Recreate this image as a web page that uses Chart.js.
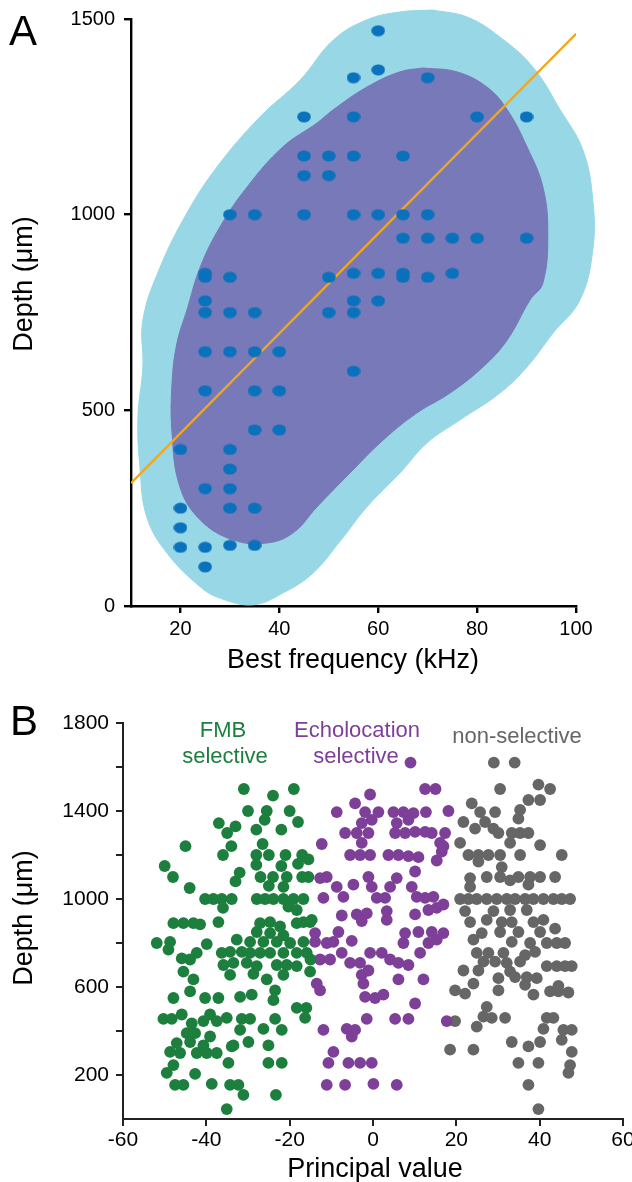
<!DOCTYPE html>
<html>
<head>
<meta charset="utf-8">
<script src="https://cdn.jsdelivr.net/npm/chart.js@4.4.1/dist/chart.umd.min.js"></script>
<style>
  body { margin: 0; background: #fff; }
  #wrap { position: relative; width: 632px; height: 1182px; background: #fff; }
  canvas { position: absolute; left: 0; }
  #chartA { top: 0; }
  #chartB { top: 690px; }
</style>
</head>
<body>
<div id="wrap">
  <canvas id="chartA" width="632" height="690"></canvas>
  <canvas id="chartB" width="632" height="492"></canvas>
</div>
<script>
// ---- panel A data: best frequency (kHz) vs depth (um)
const unitsA = [
  [20,400],[20,250],[20,200],[20,150],
  [25,850],[25,840],[25,780],[25,750],[25,650],[25,550],[25,300],[25,150],[25,100],
  [30,1000],[30,840],[30,750],[30,650],[30,400],[30,350],[30,300],[30,250],[30,155],
  [35,1000],[35,750],[35,650],[35,550],[35,450],[35,250],[35,155],
  [40,650],[40,550],[40,450],
  [45,1250],[45,1150],[45,1100],[45,1000],
  [50,1150],[50,1100],[50,840],[50,750],
  [55,1350],[55,1250],[55,1150],[55,1000],[55,850],[55,780],[55,750],[55,600],
  [60,1470],[60,1370],[60,1000],[60,850],[60,780],
  [65,1150],[65,1000],[65,940],[65,850],[65,840],
  [70,1350],[70,1000],[70,940],[70,840],
  [75,940],[75,850],
  [80,1250],[80,940],
  [90,1250],[90,940]
]
const fitLineA = [[10,314],[100,1462]]
const outerContour = [
  [71,1523],[78,1505],[84.6,1454],[91.3,1377],[96.8,1268],[101.4,1165],[103.4,1038],[103.4,910],
  [100.8,782],[95.4,698],[90.1,611],[84.6,544],[76.5,475],[69.9,417],[64.4,340],[57.7,253],
  [52.5,169],[46.8,84],[40.7,33],[34.7,3],[28,20],[24,49],[17.3,135],[13.2,227],[11.8,355],
  [11.4,483],[12.4,611],[12.4,731],[15.9,866],[21.3,1004],[27.4,1122],[36.1,1250],[44.2,1344],
  [50.9,1446],[57.7,1498],[64.4,1518],[71,1523]
]
const innerContour = [
  [69.1,1375],[75.9,1365],[82,1326],[86.1,1268],[90.1,1173],[93.3,1071],[94.3,953],[93.3,825],
  [90.7,782],[86.1,680],[81.2,611],[74.5,544],[67.8,493],[61,424],[54.3,340],[47.6,253],
  [42.8,187],[37.5,161],[30.6,169],[24,220],[19.9,304],[18.3,442],[18.3,570],[19.3,672],
  [21.3,756],[24,866],[28,969],[33.5,1071],[40.7,1173],[47.6,1234],[50.9,1268],[57.7,1326],
  [64.4,1365],[69.1,1375]
]
const xTicksA = [20,40,60,80,100]
const yTicksA = [0,500,1000,1500]

// ---- panel B data: principal value vs depth (um)
const fmbPoints = [
  [-31,1500],[-19,1500],[-24,1470],
  [-30,1400],[-25.5,1400],[-20,1400],
  [-37,1345],[-33,1330],[-35,1300],[-28,1315],[-22,1315],[-18,1350],[-26,1360],
  [-45,1240],[-26.5,1250],[-34,1240],[-36,1200],
  [-50,1150],[-48,1100],[-28,1200],[-25,1200],[-21,1200],[-17,1200],[-18,1160],[-28,1155],[-22,1150],
  [-44,1050],[-32,1120],[-33,1080],[-27,1100],[-24,1100],[-20.7,1100],[-17,1100],[-21.5,1055],[-25,1060],
  [-40.3,1000],[-38.3,1000],[-36.3,1000],[-33.9,1000],[-27.9,1000],[-25.9,1000],[-23.9,1000],[-21.5,1000],[-19.1,1000],[-16.7,1000],
  [-36,960],[-20.3,965],[-18.3,950],
  [-47.9,890],[-45.5,890],[-43.1,890],[-41.5,885],[-37.1,895],[-27.1,890],[-24.7,895],[-18.3,890],[-16.7,895],[-15.1,895],[-22.3,875],
  [-27.9,850],[-24.7,845],[-21.5,835],
  [-51.9,800],[-48.7,805],[-49.1,770],[-39.9,795],[-32.7,815],[-29.5,805],[-26.3,805],[-23.1,805],[-19.9,800],[-16.7,805],
  [-45.9,730],[-43.9,725],[-42.3,755],[-36.3,755],[-34.3,760],[-31.5,760],[-29.5,755],[-27.1,755],[-24.7,755],[-21.5,755],[-18.3,755],[-15.9,755],
  [-35.9,700],[-33.5,710],[-30.3,710],[-27.9,695],[-23.1,700],[-20.7,700],[-18.3,695],
  [-45.5,670],[-43.1,635],[-34.3,655],[-28.7,660],[-25.5,635],[-21.5,655],[-15.1,670],
  [-43.9,580],[-47.9,550],[-40.3,550],[-37.1,550],[-31.9,555],[-29.1,565],[-23.5,585],[-23.9,540],
  [-18.3,505],[-16.3,460],
  [-50.3,455],[-48.3,455],[-45.9,475],[-43.5,435],[-40.7,445],[-39.1,475],[-37.5,445],[-35.1,460],[-31.5,455],[-29.5,455],[-23.5,455],
  [-44.7,390],[-42.7,390],[-39.1,375],[-31.9,405],[-26.3,410],[-21.9,405],
  [-47.1,345],[-43.9,350],[-40.7,335],[-33.5,335],[-29.9,350],[-25.1,335],
  [-48.7,305],[-46.3,300],[-42.3,300],[-39.9,300],[-37.5,300],[-33.9,330],
  [-47.9,245],[-34.7,255],[-25.1,255],[-21.9,255],
  [-49.5,210],[-42.7,205],
  [-47.5,155],[-45.5,155],[-38.7,160],[-34.3,155],[-32.3,155],[-31.1,110],[-23.3,110],
  [-35.1,45],
  [-15.5,1180],[-15.5,1100],[-14.7,905],[-15,725],[-16,505]
]
const echoPoints = [
  [9,1620],
  [12.5,1500],[15,1500],[-0.7,1475],
  [-4.3,1435],[-8.7,1395],[-1.9,1395],[1.3,1395],[4.9,1395],[7.3,1395],[9.7,1390],[12.7,1395],[18.1,1400],
  [-0.3,1360],[-2.7,1345],[5.7,1345],[8.5,1360],
  [-6.7,1300],[-3.9,1300],[-1.1,1300],[5.3,1300],[7.7,1300],[10.1,1305],[12.5,1305],[14.1,1300],[17.3,1300],
  [-12.3,1250],[-2.7,1255],[16.1,1255],[16.9,1240],
  [-5.5,1200],[-3.1,1200],[-0.7,1200],[3.7,1200],[6.1,1200],[8.5,1195],[10.9,1190],[15.3,1175],[16.5,1215],
  [10.1,1125],
  [-12.7,1095],[-11.1,1100],[-1.1,1100],[5.7,1095],
  [-8.7,1055],[-4.7,1065],[-0.3,1055],[4.1,1055],[9.3,1055],
  [-11.9,1005],[-7.1,1010],[0.9,1005],[2.9,1005],[10.5,1010],[12.5,1005],[14.5,1010],[16.9,975],[13.3,950],[15.3,960],
  [-7.5,925],[-3.9,930],[-1.5,935],[-2.7,900],[3.3,945],[3.3,905],[10.1,930],
  [-13.9,845],[-8.3,850],[7.7,845],[10.9,850],[14.1,850],[16.9,845],
  [-13.9,805],[-11.1,800],[-9.5,805],[-5.1,810],[7.3,800],[13.3,800],[15.3,815],
  [-12.7,725],[-10.3,725],[-7.5,755],[-5.5,710],[-3.1,710],[-0.7,755],[2.1,755],[4.1,725],[6.1,710],[8.5,700],[11.3,755],
  [-1.1,675],[-2.7,655],[6.1,635],[12.1,635],
  [-13.5,615],[-12.7,585],[-2.3,615],[-1.9,555],[0.5,550],[2.5,565],
  [10.1,525],
  [-1.5,455],[5.3,455],[8.5,455],[17.7,445],
  [-11.9,405],[-6.3,410],[-5.1,375],[-4.3,405],
  [-9.5,305],[-10.7,255],[-5.9,255],[-3.1,255],[-0.3,255],
  [-11.1,155],[-6.7,155],[0.1,160],[5.7,155]
]
const nonSelPoints = [
  [29,1620],[34,1620],
  [39.7,1520],[42.5,1500],[30.5,1500],
  [37.3,1450],[40.1,1450],
  [23.7,1435],[25.7,1395],[29.3,1395],[35.3,1405],[34.9,1365],
  [21.7,1350],[24.5,1320],[26.9,1350],[28.9,1320],[30.1,1300],
  [33.3,1300],[35.3,1300],[37.3,1300],
  [20.9,1255],[32.9,1255],[40.1,1245],[45.3,1200],
  [22.9,1200],[25.3,1200],[27.7,1200],[30.5,1200],[35.3,1200],
  [25.3,1170],[30.9,1145],
  [23.3,1095],[27.3,1100],[30.5,1100],[32.9,1085],[34.9,1100],[37.7,1100],[40.1,1100],[43.7,1100],[23.3,1055],[37.3,1065],
  [20.9,1000],[22.9,1000],[24.9,1000],[27.3,1000],[29.7,1000],[32.1,1000],[34.1,1000],[36.5,1000],[38.5,1000],[40.9,1000],[43.3,1000],[45.3,1000],[47.3,1000],
  [22.1,945],[28.9,945],[32.9,950],[36.9,950],[23.3,895],[27.3,905],[30.9,895],[33.3,895],[38.5,895],[40.9,905],[43.7,865],
  [30.5,850],[34.9,850],[40.1,850],[26.1,845],
  [24.1,815],[33.3,805],[37.7,800],[41.7,800],[44.1,800],[46.1,800],
  [24.9,755],[27.7,755],[31.3,755],[36.5,745],[38.9,760],
  [26.5,715],[29.3,715],[32.1,710],[35.3,715],
  [41.7,695],[44.1,695],[46.1,695],[47.7,695],
  [21.7,675],[25.3,675],[32.9,670],[34.1,645],[30.1,640],[36.9,645],[39.3,640],
  [24.1,615],[19.7,585],[22.1,570],[30.1,585],[36.5,610],[38.5,565],
  [42.5,580],[44.5,605],[44.5,580],[46.9,575],
  [27.3,510],[26.5,465],[28.5,460],[31.7,460],[24.9,420],
  [19.7,445],
  [41.7,460],[43.3,460],
  [40.9,410],[45.7,405],[47.7,405],[45.3,360],
  [33.3,350],[37.3,330],[40.1,350],[47.7,305],
  [18.5,315],[24.1,315],
  [34.9,255],[39.7,255],[47.3,245],[46.9,210],
  [37.3,155],
  [39.7,45]
]
const xTicksB = [-60,-40,-20,0,20,40,60]
const yTicksB = [200,400,600,800,1000,1200,1400,1600,1800]
const yLabelsB = [200,600,1000,1400,1800]

const FONT = "'Liberation Sans', Arial, Helvetica, sans-serif"
const toXY = arr => arr.map(p => ({x: p[0], y: p[1]}))

// ellipse marker for panel A
const dot = document.createElement('canvas')
dot.width = 14
dot.height = 12
const dctx = dot.getContext('2d')
dctx.fillStyle = '#0a71bc'
dctx.beginPath()
dctx.ellipse(7, 6, 6.8, 5.6, 0, 0, Math.PI * 2)
dctx.fill()

// text labels drawn on top of each chart
const textPlugin = {
  id: 'texts',
  afterDraw(chart, args, opts) {
    const ctx = chart.ctx
    opts.items.forEach(t => {
      ctx.save()
      ctx.font = t.font
      ctx.fillStyle = t.color || '#000'
      ctx.textAlign = t.align || 'center'
      ctx.textBaseline = 'alphabetic'
      ctx.translate(t.x, t.y)
      if (t.rotate) ctx.rotate(t.rotate)
      ctx.fillText(t.text, 0, 0)
      ctx.restore()
    })
  }
}

// let the density regions run past the axes like in the figure
const bleedPlugin = {
  id: 'bleed',
  beforeDatasetsDraw(chart) {
    chart._savedArea = chart.chartArea
    chart.chartArea = {left: 0, top: 0, right: chart.width, bottom: chart.height, width: chart.width, height: chart.height}
  },
  afterDatasetsDraw(chart) {
    chart.chartArea = chart._savedArea
  }
}

function axis(opts) {
  return {
    type: 'linear',
    min: opts.min,
    max: opts.max,
    afterBuildTicks: s => { s.ticks = opts.ticks.map(v => ({value: v})) },
    afterFit: s => {
      if (opts.width) s.width = opts.width
      if (opts.height) s.height = opts.height
      s.paddingLeft = 0; s.paddingRight = 0; s.paddingTop = 0; s.paddingBottom = 0
    },
    grid: { drawOnChartArea: false, drawTicks: true, tickLength: 7, lineWidth: opts.lw, color: opts.color },
    border: { display: true, color: opts.color, width: opts.lw },
    ticks: {
      color: '#000',
      font: { family: FONT, size: opts.fontSize },
      padding: opts.pad,
      autoSkip: false,
      maxRotation: 0,
      callback: opts.labels ? (v => opts.labels.includes(v) ? String(v) : '') : (v => String(v))
    }
  }
}

new Chart(document.getElementById('chartA'), {
  type: 'scatter',
  data: {
    datasets: [
      { label: 'units', data: toXY(unitsA), pointStyle: dot, pointRadius: 6, order: 0 },
      { label: 'fit', data: toXY(fitLineA), showLine: true, borderColor: '#f0a71c', borderWidth: 2.2,
        pointRadius: 0, order: 1 },
      { label: 'inner', data: toXY(innerContour), showLine: true, fill: 'shape', tension: 0.4,
        capBezierPoints: false, backgroundColor: '#7879b8', borderColor: '#7879b8', borderWidth: 1,
        pointRadius: 0, clip: false, order: 2 },
      { label: 'outer', data: toXY(outerContour), showLine: true, fill: 'shape', tension: 0.4,
        capBezierPoints: false, backgroundColor: '#98d7e5', borderColor: '#98d7e5', borderWidth: 1,
        pointRadius: 0, clip: false, order: 3 }
    ]
  },
  options: {
    responsive: false,
    animation: false,
    events: [],
    layout: { padding: { left: 0, right: 56, top: 19, bottom: 0 } },
    scales: {
      x: axis({ min: 10, max: 100, ticks: xTicksA, height: 84, lw: 2.4, color: '#000', fontSize: 20, pad: 4 }),
      y: axis({ min: 0, max: 1500, ticks: yTicksA, width: 131, lw: 2.4, color: '#000', fontSize: 20, pad: 9 })
    },
    plugins: {
      legend: { display: false },
      tooltip: { enabled: false },
      texts: { items: [
        { text: 'A', x: 9, y: 45, font: '42px ' + FONT, align: 'left' },
        { text: 'Depth (μm)', x: 32, y: 284, font: '27px ' + FONT, rotate: -Math.PI / 2 },
        { text: 'Best frequency (kHz)', x: 353, y: 668, font: '27px ' + FONT }
      ] }
    }
  },
  plugins: [bleedPlugin, textPlugin]
})

new Chart(document.getElementById('chartB'), {
  type: 'scatter',
  data: {
    datasets: [
      { label: 'FMB selective', data: toXY(fmbPoints), backgroundColor: '#1c7f3e', pointRadius: 5.9, pointBorderWidth: 0 },
      { label: 'Echolocation selective', data: toXY(echoPoints), backgroundColor: '#7d3f98', pointRadius: 5.9, pointBorderWidth: 0 },
      { label: 'non-selective', data: toXY(nonSelPoints), backgroundColor: '#666666', pointRadius: 5.9, pointBorderWidth: 0 }
    ]
  },
  options: {
    responsive: false,
    animation: false,
    events: [],
    layout: { padding: { left: 0, right: 9, top: 33, bottom: 0 } },
    scales: {
      x: axis({ min: -60, max: 60, ticks: xTicksB, height: 63, lw: 2, color: '#222', fontSize: 21, pad: 2 }),
      y: axis({ min: 0, max: 1800, ticks: yTicksB, labels: yLabelsB, width: 123, lw: 2, color: '#222', fontSize: 21, pad: 7 })
    },
    plugins: {
      legend: { display: false },
      tooltip: { enabled: false },
      texts: { items: [
        { text: 'B', x: 10, y: 45, font: '42px ' + FONT, align: 'left' },
        { text: 'FMB', x: 223, y: 47, font: '22px ' + FONT, color: '#1c7f3e' },
        { text: 'selective', x: 225, y: 73, font: '22px ' + FONT, color: '#1c7f3e' },
        { text: 'Echolocation', x: 357, y: 47, font: '22px ' + FONT, color: '#7d3f98' },
        { text: 'selective', x: 356, y: 73, font: '22px ' + FONT, color: '#7d3f98' },
        { text: 'non-selective', x: 517, y: 53, font: '22px ' + FONT, color: '#666666' },
        { text: 'Depth (μm)', x: 32, y: 228, font: '27px ' + FONT, rotate: -Math.PI / 2 },
        { text: 'Principal value', x: 375, y: 487, font: '27px ' + FONT }
      ] }
    }
  },
  plugins: [textPlugin]
})
</script>
</body>
</html>
